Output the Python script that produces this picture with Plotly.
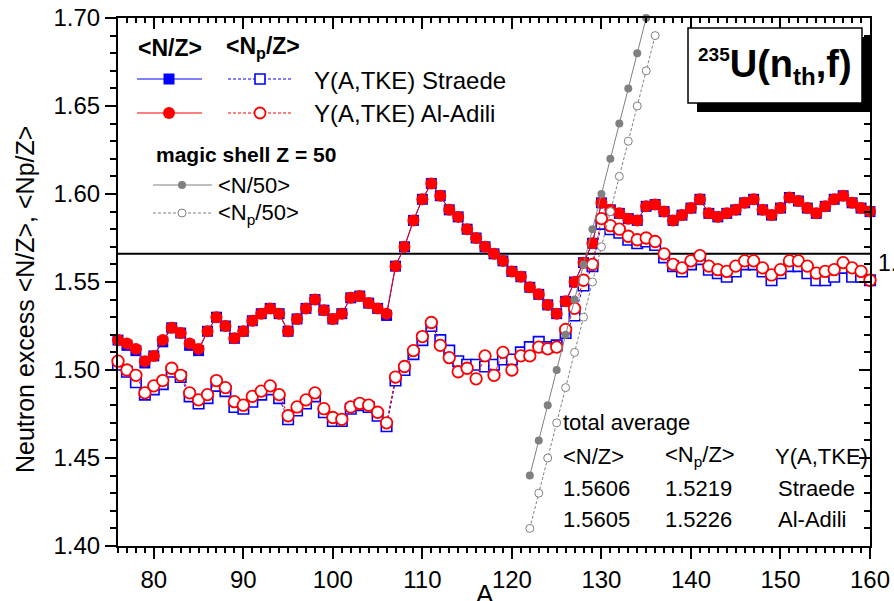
import plotly.graph_objects as go

# ---- data -------------------------------------------------------------
A = list(range(76, 161))

nz_aladili = [
    1.517, 1.515, 1.512, 1.505, 1.508, 1.517, 1.524, 1.521, 1.515, 1.512,
    1.522, 1.530, 1.525, 1.518, 1.522, 1.528, 1.532, 1.535, 1.532, 1.522,
    1.529, 1.535, 1.540, 1.534, 1.529, 1.532, 1.541, 1.542, 1.538, 1.535,
    1.532, 1.559, 1.570, 1.585, 1.597, 1.606, 1.599, 1.591, 1.587, 1.580,
    1.575, 1.570, 1.566, 1.562, 1.556, 1.553, 1.547, 1.543, 1.537, 1.532,
    1.539, 1.550, 1.561, 1.572, 1.595, 1.591, 1.589, 1.586, 1.585, 1.593,
    1.594, 1.590, 1.585, 1.588, 1.592, 1.597, 1.589, 1.587, 1.589, 1.591,
    1.595, 1.597, 1.591, 1.588, 1.592, 1.598, 1.596, 1.592, 1.589, 1.593,
    1.597, 1.599, 1.595, 1.592, 1.590,
]

nz_straede = [
    1.517, 1.514, 1.511, 1.504, 1.508, 1.516, 1.524, 1.521, 1.514, 1.511,
    1.522, 1.530, 1.525, 1.518, 1.522, 1.528, 1.532, 1.535, 1.532, 1.522,
    1.529, 1.535, 1.540, 1.534, 1.529, 1.532, 1.541, 1.542, 1.538, 1.535,
    1.531, 1.559, 1.570, 1.585, 1.597, 1.606, 1.599, 1.591, 1.587, 1.580,
    1.575, 1.570, 1.566, 1.562, 1.556, 1.553, 1.547, 1.543, 1.537, 1.532,
    1.539, 1.550, 1.561, 1.572, 1.595, 1.591, 1.589, 1.586, 1.585, 1.593,
    1.594, 1.590, 1.585, 1.588, 1.592, 1.597, 1.589, 1.587, 1.589, 1.591,
    1.595, 1.597, 1.591, 1.588, 1.592, 1.598, 1.596, 1.592, 1.589, 1.593,
    1.597, 1.599, 1.595, 1.592, 1.590,
]

npz_aladili = [
    1.505, 1.500, 1.497, 1.487, 1.491, 1.494, 1.501, 1.497, 1.487, 1.483,
    1.486, 1.494, 1.490, 1.482, 1.480, 1.485, 1.488, 1.491, 1.486, 1.474,
    1.479, 1.483, 1.487, 1.478, 1.473, 1.472, 1.479, 1.481, 1.480, 1.476,
    1.470, 1.496, 1.502, 1.511, 1.519, 1.527, 1.514, 1.507, 1.499, 1.501,
    1.495, 1.508, 1.497, 1.510, 1.500, 1.508, 1.508, 1.513, 1.512, 1.513,
    1.523, 1.535, 1.551, 1.560, 1.586, 1.582, 1.580, 1.576, 1.574, 1.575,
    1.573, 1.566, 1.560, 1.558, 1.562, 1.565, 1.559, 1.557, 1.556, 1.559,
    1.562, 1.562, 1.558, 1.554, 1.557, 1.562, 1.562, 1.559, 1.555, 1.556,
    1.557, 1.561, 1.558, 1.556, 1.551,
]

npz_straede = [
    1.503, 1.499, 1.493, 1.486, 1.489, 1.492, 1.499, 1.496, 1.485, 1.481,
    1.484, 1.491, 1.488, 1.479, 1.478, 1.482, 1.486, 1.489, 1.484, 1.472,
    1.477, 1.481, 1.485, 1.476, 1.471, 1.471, 1.478, 1.480, 1.479, 1.474,
    1.468, 1.494, 1.500, 1.509, 1.517, 1.525, 1.517, 1.511, 1.505, 1.503,
    1.503, 1.502, 1.503, 1.506, 1.506, 1.510, 1.513, 1.516, 1.513, 1.514,
    1.521, 1.531, 1.548, 1.559, 1.583, 1.580, 1.578, 1.574, 1.572, 1.573,
    1.571, 1.564, 1.559, 1.556, 1.560, 1.563, 1.557, 1.555, 1.553, 1.556,
    1.560, 1.560, 1.556, 1.551, 1.555, 1.559, 1.559, 1.555, 1.551, 1.551,
    1.553, 1.558, 1.553, 1.553, 1.551,
]

# magic shell Z = 50 reference lines
A_n50 = list(range(122, 136))
n_over_50 = [1.44, 1.46, 1.48, 1.50, 1.52, 1.54, 1.56,
             1.58, 1.60, 1.62, 1.64, 1.66, 1.68, 1.70]
A_np50 = list(range(122, 137))
np_over_50 = [1.41, 1.43, 1.45, 1.47, 1.49, 1.51, 1.53, 1.55,
              1.57, 1.59, 1.61, 1.63, 1.65, 1.67, 1.69]

ref_level = 1.566
ref_label = "1.566"

avg_header = ["&lt;N/Z&gt;", "&lt;N<sub>p</sub>/Z&gt;", "Y(A,TKE)"]
avg_rows = [["1.5606", "1.5219", "Straede"],
            ["1.5605", "1.5226", "Al-Adili"]]

x_ticks = [80, 90, 100, 110, 120, 130, 140, 150, 160]
y_ticks = [1.40, 1.45, 1.50, 1.55, 1.60, 1.65, 1.70]

# ---- styling ----------------------------------------------------------
FONT = "Liberation Sans, Arial, Helvetica, sans-serif"
BLUE, RED, GRAY = "#0000ff", "#ff0000", "#808080"
W, H = 894, 601
ML, MR, MT, MB = 118, 24, 18, 55
PW, PH = W - ML - MR, H - MT - MB


def px(x):
    return (x - ML) / PW


def py(y):
    return (H - MB - y) / PH


fig = go.Figure()

fig.add_trace(go.Scatter(
    x=A, y=nz_straede, mode="lines+markers", cliponaxis=False,
    line=dict(color=BLUE, width=1),
    marker=dict(symbol="square", size=11, color=BLUE, line=dict(width=0)),
))
fig.add_trace(go.Scatter(
    x=A, y=npz_straede, mode="lines+markers", cliponaxis=False,
    line=dict(color=BLUE, width=1, dash="3px,2px"),
    marker=dict(symbol="square", size=10.5, color="white",
                line=dict(color=BLUE, width=1.6)),
))
fig.add_trace(go.Scatter(
    x=A, y=nz_aladili, mode="lines+markers", cliponaxis=False,
    line=dict(color=RED, width=1),
    marker=dict(symbol="circle", size=12, color=RED, line=dict(width=0)),
))
fig.add_trace(go.Scatter(
    x=A, y=npz_aladili, mode="lines+markers", cliponaxis=False,
    line=dict(color=RED, width=1, dash="3px,2px"),
    marker=dict(symbol="circle", size=11.5, color="white",
                line=dict(color=RED, width=1.8)),
))
fig.add_trace(go.Scatter(
    x=A_n50, y=n_over_50, mode="lines+markers", cliponaxis=False,
    line=dict(color=GRAY, width=1),
    marker=dict(symbol="circle", size=8, color=GRAY, line=dict(width=0)),
))
fig.add_trace(go.Scatter(
    x=A_np50, y=np_over_50, mode="lines+markers", cliponaxis=False,
    line=dict(color=GRAY, width=1, dash="3px,2px"),
    marker=dict(symbol="circle", size=8, color="white",
                line=dict(color=GRAY, width=1)),
))
# carrier for the mirrored top / right axes
fig.add_trace(go.Scatter(x=[None], y=[None], xaxis="x2", yaxis="y2",
                         hoverinfo="skip", showlegend=False))

shapes = []
annotations = []

# horizontal reference level (its label runs off the right edge)
shapes.append(dict(type="line", xref="paper", x0=0, x1=1, yref="y",
                   y0=ref_level, y1=ref_level, layer="below",
                   line=dict(color="black", width=2)))
annotations.append(dict(text=ref_label, xref="paper", yref="paper",
                        x=px(876), y=py(263), xanchor="left", yanchor="middle",
                        showarrow=False, font=dict(size=23)))

# title box with drop shadow
shapes.append(dict(type="rect", xref="paper", yref="paper",
                   x0=px(697), x1=px(872), y0=py(112), y1=py(37),
                   fillcolor="black", line=dict(width=0)))
shapes.append(dict(type="rect", xref="paper", yref="paper",
                   x0=px(688), x1=px(862), y0=py(103), y1=py(28),
                   fillcolor="white", line=dict(color="black", width=1.5)))
annotations.append(dict(
    text="<b><sup><span style='font-size:19px'>235</span></sup>U(n<sub>"
         "<span style='font-size:24px'>th</span></sub>,f)</b>",
    xref="paper", yref="paper", x=px(775), y=py(66),
    xanchor="center", yanchor="middle", showarrow=False,
    font=dict(size=38)))


# legend block
def seg(x0, x1, y, color, dash=None):
    ln = dict(color=color, width=1)
    if dash:
        ln["dash"] = dash
    shapes.append(dict(type="line", xref="paper", yref="paper",
                       x0=px(x0), x1=px(x1), y0=py(y), y1=py(y), line=ln))


def mark(kind, cx, cy, r, fill, edge, lw):
    shapes.append(dict(type=kind, xref="paper", yref="paper",
                       x0=px(cx - r), x1=px(cx + r), y0=py(cy + r), y1=py(cy - r),
                       fillcolor=fill, line=dict(color=edge, width=lw)))


def label(text, x, y, size, anchor="left"):
    annotations.append(dict(text=text, xref="paper", yref="paper", x=px(x), y=py(y),
                            xanchor=anchor, yanchor="middle", showarrow=False,
                            font=dict(size=size)))


label("<b>&lt;N/Z&gt;</b>", 170, 48, 23, "center")
label("<b>&lt;N<sub>p</sub>/Z&gt;</b>", 263, 48, 23, "center")

seg(137, 202, 79, BLUE)
mark("rect", 169, 79, 5.5, BLUE, BLUE, 0)
seg(228, 293, 79, BLUE, "3px,2px")
mark("rect", 260, 79, 5, "white", BLUE, 1.6)
label("Y(A,TKE) Straede", 312, 80, 24)

seg(137, 202, 113, RED)
mark("circle", 169, 113, 6, RED, RED, 0)
seg(228, 293, 113, RED, "3px,2px")
mark("circle", 260, 113, 5.5, "white", RED, 1.8)
label("Y(A,TKE) Al-Adili", 312, 114, 24)

label("<b>magic shell Z = 50</b>", 154, 154, 21)
seg(153, 212, 185, GRAY)
mark("circle", 182, 185, 4, GRAY, GRAY, 0)
label("&lt;N/50&gt;", 216, 185, 22)
seg(153, 212, 213, GRAY, "3px,2px")
mark("circle", 182, 213, 4, "white", GRAY, 1)
label("&lt;N<sub>p</sub>/50&gt;", 216, 214, 22)

# total average table
label("total average", 561, 422, 22)
for text, x in zip(avg_header, [561, 663, 773]):
    label(text, x, 456, 22)
for row, y in zip(avg_rows, [488, 519]):
    label(row[0], 561, y, 22)
    label(row[1], 663, y, 22)
    label(row[2], 776, y, 22)

# axis titles
annotations.append(dict(text="Neutron excess &lt;N/Z&gt;, &lt;Np/Z&gt;",
                        xref="paper", yref="paper", x=px(25), y=py(300),
                        textangle=-90, xanchor="center", yanchor="middle",
                        showarrow=False, font=dict(size=25)))
annotations.append(dict(text="A", xref="paper", yref="paper", x=px(485), y=py(577),
                        xanchor="center", yanchor="top", showarrow=False,
                        font=dict(size=26)))

axis_common = dict(showgrid=False, zeroline=False, showline=True,
                   linecolor="black", linewidth=2, tickcolor="black",
                   tickwidth=2, ticklen=11, automargin=False)

fig.update_layout(
    width=W, height=H,
    margin=dict(l=ML, r=MR, t=MT, b=MB, pad=0, autoexpand=False),
    paper_bgcolor="white", plot_bgcolor="white",
    font=dict(family=FONT, color="black", size=22),
    showlegend=False,
    shapes=shapes, annotations=annotations,
    xaxis=dict(range=[76, 160], tickmode="array", tickvals=x_ticks,
               ticktext=[str(v) for v in x_ticks], ticks="outside",
               tickfont=dict(size=24),
               minor=dict(dtick=1, tick0=76, ticks="outside", ticklen=5,
                          tickwidth=1.5, tickcolor="black", showgrid=False),
               **axis_common),
    yaxis=dict(range=[1.40, 1.70], tickmode="array", tickvals=y_ticks,
               ticktext=[f"{v:.2f}" for v in y_ticks], ticks="outside",
               tickfont=dict(size=24),
               minor=dict(dtick=0.01, tick0=1.40, ticks="outside", ticklen=6,
                          tickwidth=1.5, tickcolor="black", showgrid=False),
               **axis_common),
    xaxis2=dict(range=[76, 160], overlaying="x", side="top", anchor="y2",
                tickmode="array", tickvals=x_ticks, ticks="inside",
                showticklabels=False,
                minor=dict(dtick=1, tick0=76, ticks="inside", ticklen=5,
                           tickwidth=1.5, tickcolor="black", showgrid=False),
                **axis_common),
    yaxis2=dict(range=[1.40, 1.70], overlaying="y", side="right", anchor="x2",
                tickmode="array", tickvals=y_ticks, ticks="inside",
                showticklabels=False,
                minor=dict(dtick=0.01, tick0=1.40, ticks="inside", ticklen=6,
                           tickwidth=1.5, tickcolor="black", showgrid=False),
                **axis_common),
)

fig.write_html("out.html")
